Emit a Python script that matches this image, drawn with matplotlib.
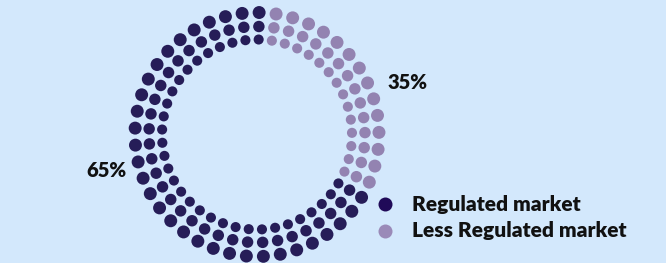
import numpy as np
import matplotlib
matplotlib.use("Agg")
import matplotlib.pyplot as plt

# Data
labels = ["Regulated market", "Less Regulated market"]
shares = [65, 35]
colors = ["#261d58", "#9383b1"]
legend_colors = ["#200a58", "#9a8ab8"]

# Dot ring layout (pixel space)
n_dots = 45
ring_radii = [122, 108, 95]
cx, cy = 257, 134.5
start_deg = 1.0
gap_deg = 6.0
bg = "#d3e8fc"

fig = plt.figure(figsize=(6.66, 2.63), dpi=100)
fig.patch.set_facecolor(bg)
ax = fig.add_axes([0, 0, 1, 1])
ax.set_facecolor(bg)
ax.set_xlim(0, 666)
ax.set_ylim(263, 0)
ax.axis("off")

step = 360.0 / n_dots
angles = start_deg + step * np.arange(n_dots)
less_end = 360.0 * shares[1] / sum(shares)
is_less = (angles > gap_deg) & (angles < less_end - gap_deg)
dot_colors = np.where(is_less, colors[1], colors[0])

for r in ring_radii:
    theta = np.radians(angles)
    xs = cx + r * np.sin(theta)
    ys = cy - r * np.cos(theta)
    d_px = r * np.radians(step) * 0.76
    ax.scatter(xs, ys, s=(d_px * 0.72) ** 2, c=dot_colors, linewidths=0, zorder=3)

font = ["Lato", "DejaVu Sans"]
ax.text(106, 170.5, f"{shares[0]}%", ha="center", va="center", fontsize=14.5,
        fontweight="heavy", family=font, color="#111111")
ax.text(407.5, 82.5, f"{shares[1]}%", ha="center", va="center", fontsize=14.5,
        fontweight="heavy", family=font, color="#111111")

# Legend
leg_y = [204, 231]
for lab, col, y in zip(labels, legend_colors, leg_y):
    ax.scatter([385], [y], s=(14 * 0.72) ** 2, c=col, linewidths=0, zorder=3)
    ax.text(412, y, lab, ha="left", va="center", fontsize=15, fontweight="heavy",
            family=font, color="#111111")

fig.savefig("out.png", dpi=100, facecolor=bg)
